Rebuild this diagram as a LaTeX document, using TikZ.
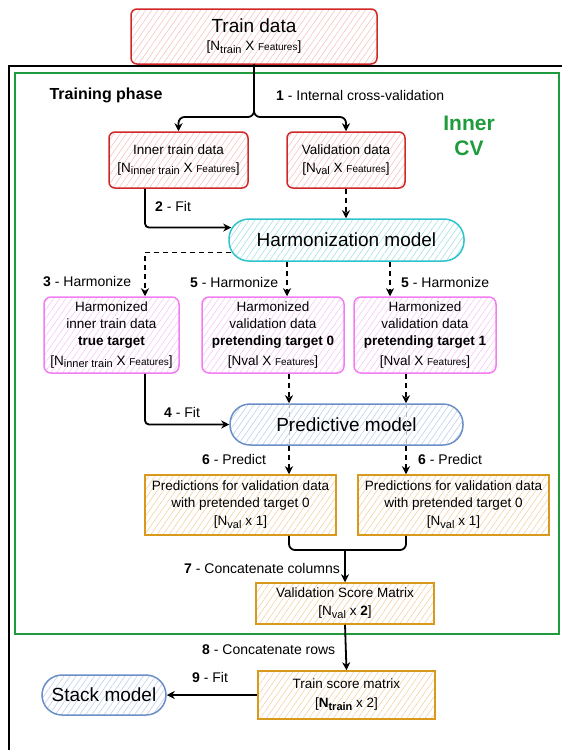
\documentclass[tikz,border=0pt]{standalone}
\usepackage{fontspec}
\setmainfont{Liberation Sans}
\usetikzlibrary{arrows.meta,positioning,calc,patterns.meta}
\definecolor{DataRed}{HTML}{D02828}
\definecolor{RedHatch}{HTML}{F6C4C4}
\definecolor{HarmCyan}{HTML}{2CC3CC}
\definecolor{CyanHatch}{HTML}{A6E0E3}
\definecolor{HarmPink}{HTML}{F27CF2}
\definecolor{PinkHatch}{HTML}{F6C8F6}
\definecolor{ModelBlue}{HTML}{6A8FC8}
\definecolor{BlueHatch}{HTML}{BFD0EA}
\definecolor{ScoreOrange}{HTML}{D99A1C}
\definecolor{OrangeHatch}{HTML}{F3D2A6}
\definecolor{CVGreen}{HTML}{1E9B3C}
\newcommand{\feat}{{\fontsize{10}{12}\selectfont Features}}
\newcommand{\nsub}[1]{\raisebox{-0.35ex}{\fontsize{11}{12}\selectfont #1}}
\newcommand{\boxfont}{\fontsize{13.5}{17}\selectfont}
\newcommand{\titlefont}{\fontsize{19}{22}\selectfont}
\newcommand{\stepfont}{\fontsize{14}{17}\selectfont}

\begin{document}
\begin{tikzpicture}[x=1pt,y=-1pt,
    hatch/.style={pattern={Lines[angle=55,distance=5pt,line width=0.6pt]},pattern color=#1},
    databox/.style={draw=DataRed,line width=1.5pt,rounded corners=6pt,hatch=RedHatch,align=center,font=\boxfont,inner sep=0pt},
    pinkbox/.style={draw=HarmPink,line width=1.5pt,rounded corners=7pt,hatch=PinkHatch,align=center,font=\boxfont,inner sep=0pt},
    scorebox/.style={draw=ScoreOrange,line width=1.5pt,hatch=OrangeHatch,align=center,font=\boxfont,inner sep=0pt},
    pill/.style={draw=#1,line width=1.5pt,rounded corners=20pt,font=\titlefont,inner sep=0pt},
    flow/.style={line width=1.8pt,-{Stealth[length=8pt,width=8pt,inset=2.5pt]}},
    dflow/.style={line width=1.5pt,dash pattern=on 5pt off 4pt,-{Stealth[length=8pt,width=8pt,inset=2.5pt]}},
    steplbl/.style={font=\stepfont,anchor=west,inner sep=0pt}]
  \useasboundingbox (0,0) rectangle (562,750);

  % frames
  \draw[line width=2.2pt] (562,66) -- (9,66) -- (9,750);
  \draw[CVGreen,line width=1.8pt] (15,73) rectangle (559,634);
  \node[font=\fontsize{16}{19}\selectfont\bfseries] (phase) at (106,95) {Training phase};
  \node[font=\fontsize{21}{25}\selectfont\bfseries,text=CVGreen,align=center] (cv) at (469,136) {Inner\\CV};

  % data boxes
  \node[databox,minimum width=246pt,minimum height=55pt] (train) at (254,36.5)
    {\titlefont Train data\\[1pt]\boxfont [N\nsub{train} X \feat]};
  \node[databox,minimum width=139pt,minimum height=56pt] (inner) at (178.5,160)
    {Inner train data\\[1pt][N\nsub{inner train} X \feat]};
  \node[databox,minimum width=118pt,minimum height=56pt] (valid) at (346,160)
    {Validation data\\[1pt][N\nsub{val} X \feat]};

  % models
  \node[pill=HarmCyan,hatch=CyanHatch,minimum width=235pt,minimum height=42pt] (harm) at (346.5,240) {Harmonization model};
  \node[pill=ModelBlue,hatch=BlueHatch,minimum width=233pt,minimum height=41pt] (pred) at (346.5,424.5) {Predictive model};
  \node[pill=ModelBlue,hatch=BlueHatch,minimum width=124pt,minimum height=40pt] (stack) at (104,695) {Stack model};

  % harmonized data
  \node[pinkbox,minimum width=135pt,minimum height=76pt] (hinner) at (111.5,335)
    {Harmonized\\inner train data\\\textbf{true target}\\[3pt][N\nsub{inner train} X \feat]};
  \node[pinkbox,minimum width=142pt,minimum height=76pt] (hval0) at (273,335)
    {Harmonized\\validation data\\\textbf{pretending target 0}\\[3pt][Nval X \feat]};
  \node[pinkbox,minimum width=142pt,minimum height=76pt] (hval1) at (425,335)
    {Harmonized\\validation data\\\textbf{pretending target 1}\\[3pt][Nval X \feat]};

  % predictions and scores
  \node[scorebox,minimum width=191pt,minimum height=60pt] (pr0) at (240.5,505)
    {Predictions for validation data\\with pretended target 0\\[1pt][N\nsub{val} x 1]};
  \node[scorebox,minimum width=191pt,minimum height=60pt] (pr1) at (453.5,505)
    {Predictions for validation data\\with pretended target 0\\[1pt][N\nsub{val} x 1]};
  \node[scorebox,minimum width=178pt,minimum height=41pt] (vsm) at (345,603.5)
    {Validation Score Matrix\\[1pt][N\nsub{val} x \textbf{2}]};
  \node[scorebox,minimum width=177pt,minimum height=48pt] (tsm) at (346.5,695)
    {Train score matrix\\[2pt][\textbf{N\nsub{train}} x 2]};

  % step labels
  \node[steplbl] (s1) at (276,95) {\textbf{1} - Internal cross-validation};
  \node[steplbl] (s2) at (155,206) {\textbf{2} - Fit};
  \node[steplbl] (s3) at (43,282) {\textbf{3} - Harmonize};
  \node[steplbl] (s5a) at (190,282) {\textbf{5} - Harmonize};
  \node[steplbl] (s5b) at (401,282) {\textbf{5} - Harmonize};
  \node[steplbl] (s4) at (164,412) {\textbf{4} - Fit};
  \node[steplbl] (s6a) at (202,459) {\textbf{6} - Predict};
  \node[steplbl] (s6b) at (418,459) {\textbf{6} - Predict};
  \node[steplbl] (s7) at (184,568) {\textbf{7} - Concatenate columns};
  \node[steplbl] (s8) at (202,650) {\textbf{8} - Concatenate rows};
  \node[steplbl] (s9) at (192,677) {\textbf{9} - Fit};

  % connectors
  \coordinate (split) at (254,117);
  \coordinate (merge) at (345,550);
  \draw[flow,rounded corners=6pt] (train.south) -- (split) -| (inner.north);
  \draw[flow,rounded corners=6pt] (train.south) -- (split) -| (valid.north);
  \draw[flow,rounded corners=4pt,shorten >=-3pt] (inner.south -| 145,0) |- (harm.174);
  \draw[dflow] (valid.south) -- (harm.north -| valid.south);
  \draw[dflow,shorten <=-3pt] (harm.186) -| (hinner.north -| 145,0);
  \draw[dflow] (harm.south -| 287,0) -- (hval0.north -| 287,0);
  \draw[dflow] (harm.south -| 390,0) -- (hval1.north -| 390,0);
  \draw[flow,rounded corners=4pt] (hinner.south -| 145,0) |- (pred.west);
  \draw[dflow] (hval0.south -| 289,0) -- (pred.north -| 289,0);
  \draw[dflow] (hval1.south -| 406,0) -- (pred.north -| 406,0);
  \draw[gray!55,line width=1pt,dash pattern=on 5pt off 4pt] (pred.north -| 289,0) -- (pred.south -| 289,0);
  \draw[gray!55,line width=1pt,dash pattern=on 5pt off 4pt] (pred.north -| 406,0) -- (pred.south -| 406,0);
  \draw[dflow] (pred.south -| 289,0) -- (pr0.north -| 289,0);
  \draw[dflow] (pred.south -| 406,0) -- (pr1.north -| 406,0);
  \draw[line width=1.8pt,rounded corners=6pt] (pr0.south -| 289,0) |- (merge);
  \draw[line width=1.8pt,rounded corners=6pt] (pr1.south -| 406,0) |- (merge);
  \draw[flow] (merge) -- (vsm.north);
  \draw[flow] (vsm.south) -- (tsm.north);
  \draw[flow] (tsm.west) -- (stack.east);
\end{tikzpicture}
\end{document}
